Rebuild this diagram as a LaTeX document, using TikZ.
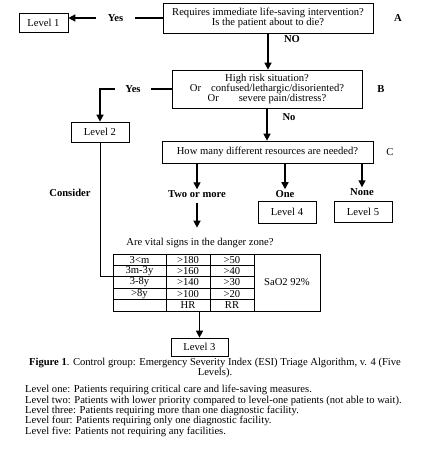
\documentclass[tikz,border=0pt]{standalone}
\usepackage{fontspec}
\setmainfont{Liberation Serif}
\usetikzlibrary{arrows.meta}

\begin{document}
\begin{tikzpicture}[x=1pt, y=-1pt,
    font=\fontsize{10.6}{10.4}\selectfont,
    box/.style={rectangle, draw=black, line width=0.7pt, align=center, inner sep=0pt},
    arrow/.style={-{Triangle[length=7pt,width=7pt]}, line width=1.4pt},
    line/.style={line width=0.7pt},
    lbl/.style={font=\fontsize{10.6}{10.4}\selectfont\bfseries, inner sep=1pt},
    cell/.style={inner sep=0pt}
]
\useasboundingbox (0,0) rectangle (428,468);

% Question A and Level 1
\node[box, minimum width=210, minimum height=30] (qa) at (268,18) {Requires immediate life-saving intervention?\\Is the patient about to die?};
\node[lbl] (taga) at (398,18) {A};
\node[box, minimum width=49, minimum height=19] (lvl1) at (43.5,22.5) {Level 1};
\draw[arrow] (qa.west) -- (qa.west -| lvl1.east) node[lbl, midway, fill=white, inner xsep=12pt] (yes1) {Yes};

% Question B and Level 2
\node[lbl] (no1) at (292,39) {NO};
\node[box, minimum width=190, minimum height=38] (qb) at (267,89) {High risk situation?\\Or\hspace{10pt}confused/lethargic/disoriented?\\Or\hspace{20pt}severe pain/distress?};
\node[lbl] (tagb) at (381,89) {B};
\draw[arrow] (qa.south) -- (qa.south |- qb.north);
\node[box, minimum width=58, minimum height=20] (lvl2) at (100,132) {Level 2};
\draw[arrow] (qb.west) -| (lvl2.north) node[lbl, pos=0.27, fill=white, inner xsep=10pt] (yes2) {Yes};

% Question C
\node[lbl] (no2) at (289,117) {No};
\node[box, minimum width=211, minimum height=22] (qc) at (267.5,152) {How many different resources are needed?};
\node (tagc) at (390,152) {C};
\draw[arrow] (qb.south) -- (qb.south |- qc.north);

% Resource answers
\node[lbl] (twomore) at (197,194) {Two or more};
\node[lbl] (one) at (285,194) {One};
\node[lbl] (none) at (362,192) {None};
\draw[arrow] (qc.south -| twomore) -- (twomore);
\draw[arrow] (qc.south -| one) -- (one);
\draw[arrow] (qc.south -| none) -- (none);
\node[box, minimum width=58, minimum height=22] (lvl4) at (287,212) {Level 4};
\node[box, minimum width=58, minimum height=21] (lvl5) at (363,211.5) {Level 5};

% Vital signs table
\node (vsq) at (200,243) {Are vital signs in the danger zone?};
\draw[arrow, shorten <=4pt, shorten >=7pt] (twomore) -- (twomore |- vsq.north);
\node[box, minimum width=207, minimum height=57] (vitals) at (216.5,282.5) {};
\draw[line] (166,254) -- (166,311);
\draw[line] (210,254) -- (210,311);
\draw[line] (254,254) -- (254,311);
\draw[line] (113,265.4) -- (254,265.4);
\draw[line] (113,276.8) -- (254,276.8);
\draw[line] (113,288.2) -- (254,288.2);
\draw[line] (113,299.6) -- (254,299.6);
\node[cell] (age1) at (139.5,259.7) {3<m};
\node[cell] (hr1) at (188,259.7) {>180};
\node[cell] (rr1) at (232,259.7) {>50};
\node[cell] (age2) at (139.5,271.1) {3m-3y};
\node[cell] (hr2) at (188,271.1) {>160};
\node[cell] (rr2) at (232,271.1) {>40};
\node[cell] (age3) at (139.5,282.5) {3-8y};
\node[cell] (hr3) at (188,282.5) {>140};
\node[cell] (rr3) at (232,282.5) {>30};
\node[cell] (age4) at (139.5,293.9) {>8y};
\node[cell] (hr4) at (188,293.9) {>100};
\node[cell] (rr4) at (232,293.9) {>20};
\node[cell] (hrhead) at (188,305.3) {HR};
\node[cell] (rrhead) at (232,305.3) {RR};
\node[cell] (sao2) at (287,282.5) {SaO2 92\%};

% Level 2 to table
\node[lbl] (consider) at (70,193) {Consider};
\coordinate (vin) at (113,276.8);
\draw[line] (lvl2.south) |- (vin);

% Level 3
\node[box, minimum width=57, minimum height=18] (lvl3) at (199.5,347) {Level 3};
\draw[arrow] (vitals.south -| lvl3) -- (lvl3);

% Caption and legend
\node[align=center, inner sep=0pt] (caption) at (215,368) {\textbf{Figure 1}. Control group: Emergency Severity Index (ESI) Triage Algorithm, v. 4 (Five\\Levels).};
\node[align=left, anchor=north west, inner sep=0pt] (legend) at (25,385) {Level one: Patients requiring critical care and life-saving measures.\\
Level two: Patients with lower priority compared to level-one patients (not able to wait).\\
Level three: Patients requiring more than one diagnostic facility.\\
Level four: Patients requiring only one diagnostic facility.\\
Level five: Patients not requiring any facilities.};

\end{tikzpicture}
\end{document}
